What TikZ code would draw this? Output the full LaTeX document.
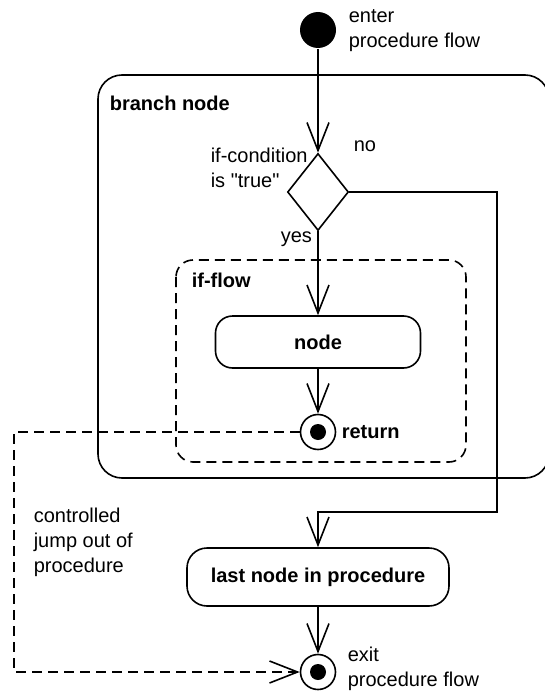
\documentclass[tikz,border=0pt]{standalone}
\usepackage{fontspec}
\setmainfont{Liberation Sans}[Ligatures=TeXOff]
\usetikzlibrary{arrows.meta,shapes.geometric}

\tikzset{
  flow/.style={-{Straight Barb[length=28pt,width=22pt]}},
  txt/.style={font=\fontsize{20}{25}\selectfont},
  bold/.style={font=\fontsize{20}{25}\selectfont\bfseries},
  lbl/.style={align=left,anchor=west,inner sep=0pt},
  action/.style={draw,rounded corners=17pt,minimum height=52pt,inner sep=0pt,bold},
  final/.style={draw,circle,minimum size=35pt,inner sep=0pt,
    path picture={\fill (path picture bounding box.center) circle (8pt);}},
  jumpline/.style={dash pattern=on 10pt off 6pt},
}

\begin{document}
\begin{tikzpicture}[x=1pt,y=-1pt,line width=1.6pt]
  \clip (0,0) rectangle (545,693);
  % containers
  \draw[rounded corners=24pt] (98,75) rectangle (549,478);
  \draw[jumpline,rounded corners=17pt] (176,260) rectangle (466,462);

  % flow nodes
  \node[circle,fill,minimum size=36pt,inner sep=0pt] (start) at (318,30) {};
  \node[diamond,draw,minimum width=61pt,minimum height=77pt,inner sep=0pt] (cond) at (318,192) {};
  \node[action,minimum width=205pt] (act) at (318,342) {node};
  \node[final] (ret) at (318,432) {};
  \node[action,minimum width=262pt,minimum height=58pt,rounded corners=20pt] (last) at (318,577) {last node in procedure};
  \node[final] (exit) at (318,672) {};

  % labels
  \node[lbl,txt] (enterlbl) at (348,31) {enter\\procedure flow};
  \node[lbl,bold] (branchlbl) at (109,103) {branch node};
  \node[lbl,txt] (condlbl) at (210,168) {if-condition\\is "true"};
  \node[lbl,txt] (nolbl) at (353,146) {no};
  \node[lbl,txt] (yeslbl) at (280,239) {yes};
  \node[lbl,bold] (iflbl) at (191,280) {if-flow};
  \node[lbl,bold] (retlbl) at (341,432) {return};
  \node[lbl,txt] (exitlbl) at (347,669) {exit\\procedure flow};
  \node[lbl,txt] (jumplbl) at (33,542) {controlled\\jump out of\\procedure};

  % connectors
  \draw[flow] (start) -- (cond);
  \draw[flow] (cond) -- (act);
  \draw[flow] (act) -- (ret);
  \coordinate (bend) at (497,512);
  \draw[flow] (cond.east) -| (bend) -- (bend -| last) -- (last);
  \draw[flow] (last) -- (exit);
  \coordinate (jump) at (14,672);
  \draw[flow,jumpline] (ret) -| (jump) -- (exit);
\end{tikzpicture}
\end{document}
